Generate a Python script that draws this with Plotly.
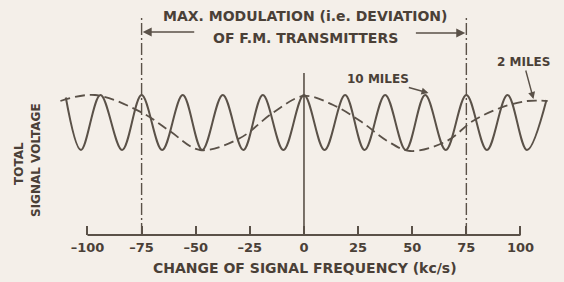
import plotly.graph_objects as go

# ---- data ----
tick_vals = [-100, -75, -50, -25, 0, 25, 50, 75, 100]
tick_text = ["\u2013100", "\u201375", "\u201350", "\u201325", "0", "25", "50", "75", "100"]

# 10 miles (solid): extremes of the fast ripple
miles10_x = [-110, -103, -94, -84, -75, -65.5, -56, -47, -37.5, -28, -19, -9.5, 0,
             9.5, 19, 28, 37.5, 47, 56, 65.5, 75, 84.5, 94, 103, 112]
miles10_y = [2.75, 1.7, 2.8, 1.7, 2.8, 1.7, 2.8, 1.7, 2.8, 1.7, 2.8, 1.7, 2.8,
             1.7, 2.8, 1.7, 2.8, 1.7, 2.8, 1.7, 2.8, 1.7, 2.8, 1.7, 2.7]

# 2 miles (dashed): slow ripple
miles2_x = [-112.5, -96.5, -74.5, -62, -48, -29.5, -14.5, 0, 13.5, 26, 38.5, 49, 66, 78, 90.5, 103, 112.5]
miles2_y = [2.68, 2.8, 2.44, 2.08, 1.7, 1.94, 2.44, 2.78, 2.6, 2.28, 1.88, 1.68, 1.88, 2.28, 2.54, 2.68, 2.68]

# ---- styling ----
BG = "#f4efe9"
INK = "#5a5148"
TXT = "#4a4037"
FONT = "DejaVu Sans"


def b(s):
    return "<b>" + s + "</b>"


fig = go.Figure()
fig.add_trace(go.Scatter(x=miles2_x, y=miles2_y, mode="lines", line_shape="spline",
                         line=dict(color=INK, width=1.8, dash="10px,5px"),
                         name="2 MILES", hoverinfo="skip"))
fig.add_trace(go.Scatter(x=miles10_x, y=miles10_y, mode="lines", line_shape="spline",
                         line=dict(color=INK, width=2), name="10 MILES", hoverinfo="skip"))

# base line of the frequency axis
fig.add_shape(type="line", xref="x", yref="paper", x0=-100, x1=100, y0=0, y1=0,
              line=dict(color=INK, width=2))
# zero line
fig.add_shape(type="line", xref="x", yref="y", x0=0, x1=0, y0=0, y1=3.24,
              line=dict(color=INK, width=1.6))
# limits of max deviation
for xv in (-75, 75):
    fig.add_shape(type="line", xref="x", yref="y", x0=xv, x1=xv, y0=0, y1=4.4,
                  line=dict(color=INK, width=1.4, dash="12px,3px,2px,3px"))

ann = []
ann.append(dict(text=b("MAX. MODULATION (i.e. DEVIATION)"), xref="x", yref="y", x=0.5, y=4.38,
                xanchor="center", yanchor="middle",
                showarrow=False, font=dict(size=14, color=TXT, family=FONT)))
ann.append(dict(text=b("OF F.M. TRANSMITTERS"), xref="x", yref="y", x=0.5, y=3.94,
                xanchor="center", yanchor="middle",
                showarrow=False, font=dict(size=14, color=TXT, family=FONT)))
# arrows to the limit lines
ann.append(dict(text="", xref="x", yref="y", axref="x", ayref="y", x=-74.5, y=4.06,
                ax=-50, ay=4.06, showarrow=True, arrowhead=2, arrowsize=1.2,
                arrowwidth=1.5, arrowcolor=INK))
ann.append(dict(text="", xref="x", yref="y", axref="x", ayref="y", x=74.5, y=4.04,
                ax=51, ay=4.04, showarrow=True, arrowhead=2, arrowsize=1.2,
                arrowwidth=1.5, arrowcolor=INK))
# curve labels
ann.append(dict(text=b("10 MILES"), xref="x", yref="y", x=57.5, y=2.84, ax=-50, ay=-14,
                showarrow=True, arrowhead=2, arrowsize=1, arrowwidth=1.4, arrowcolor=INK,
                font=dict(size=12, color=TXT, family=FONT)))
ann.append(dict(text=b("2 MILES"), xref="x", yref="y", x=106, y=2.72, ax=-10, ay=-37,
                showarrow=True, arrowhead=2, arrowsize=1, arrowwidth=1.4, arrowcolor=INK,
                font=dict(size=12, color=TXT, family=FONT)))
# y label
ann.append(dict(text=b("TOTAL"), xref="paper", yref="paper", x=19 / 564, y=(235 - 164) / 235,
                xanchor="center", yanchor="middle",
                textangle=-90, showarrow=False, font=dict(size=12, color=TXT, family=FONT)))
ann.append(dict(text=b("SIGNAL VOLTAGE"), xref="paper", yref="paper", x=36 / 564, y=(235 - 160) / 235,
                xanchor="center", yanchor="middle",
                textangle=-90, showarrow=False, font=dict(size=12, color=TXT, family=FONT)))
# x title
ann.append(dict(text=b("CHANGE OF SIGNAL FREQUENCY (kc/s)"), xref="paper", yref="paper",
                x=305 / 564, y=(235 - 268) / 235, xanchor="center", yanchor="middle",
                showarrow=False, font=dict(size=14, color=TXT, family=FONT)))

fig.update_layout(
    width=564, height=282,
    margin=dict(l=0, r=0, t=0, b=47),
    paper_bgcolor=BG, plot_bgcolor=BG,
    showlegend=False,
    annotations=ann,
    xaxis=dict(range=[-140.4, 120.1], showgrid=False, zeroline=False, showline=False,
               tickmode="array", tickvals=tick_vals, ticktext=[b(t) for t in tick_text],
               ticks="inside", ticklen=9, tickwidth=2, tickcolor=INK, ticklabelstandoff=3,
               tickfont=dict(size=13, color=TXT, family=FONT)),
    yaxis=dict(range=[0, 4.7], showgrid=False, zeroline=False, showline=False,
               showticklabels=False, ticks=""),
)

fig.write_html("out.html", config={"displayModeBar": False},
               post_script="document.body.style.margin='0';document.body.style.background='" + BG + "';")
